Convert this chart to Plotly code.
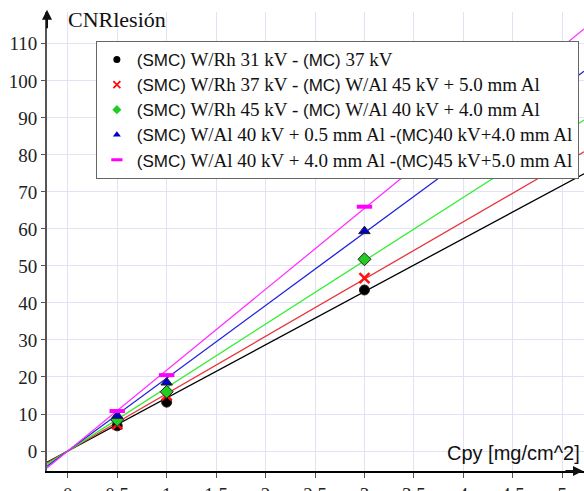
import numpy as np
import plotly.graph_objects as go

SERIF = "Times New Roman, serif"
SANS = "Liberation Sans, Arial, sans-serif"

cpy = [0.5, 1.0, 3.0]


def sans(t):
    return '<span style="font-family:Arial, sans-serif;font-size:17px">' + t + '</span>'


def serif(t):
    return '<span style="font-family:Times New Roman, serif;font-size:19px">' + t + '</span>'


names = [
    sans('(SMC)') + serif(' W/Rh 31 kV - ') + sans('(MC)') + serif(' 37 kV'),
    sans('(SMC)') + serif(' W/Rh 37 kV - ') + sans('(MC)') + serif(' W/Al 45 kV + 5.0 mm Al'),
    sans('(SMC)') + serif(' W/Rh 45 kV - ') + sans('(MC)') + serif(' W/Al 40 kV + 4.0 mm Al'),
    sans('(SMC)') + serif(' W/Al 40 kV + 0.5 mm Al -') + sans('(MC)') + serif('40 kV+4.0 mm Al'),
    sans('(SMC)') + serif(' W/Al 40 kV + 4.0 mm Al -') + sans('(MC)') + serif('45 kV+5.0 mm Al'),
]
cnr_s1 = [6.8, 13.2, 43.5]
cnr_s2 = [7.2, 15.0, 46.7]
cnr_s3 = [8.4, 16.0, 51.8]
cnr_s4 = [9.5, 18.5, 59.4]
cnr_s5 = [10.8, 20.5, 66.0]
series = [cnr_s1, cnr_s2, cnr_s3, cnr_s4, cnr_s5]

x_ticks = [0, 0.5, 1, 1.5, 2, 2.5, 3, 3.5, 4, 4.5, 5]
x_tick_text = ["0", "0.5", "1", "1.5", "2", "2.5", "3", "3.5", "4", "4.5", "5"]
y_ticks = [0, 10, 20, 30, 40, 50, 60, 70, 80, 90, 100, 110]

line_colors = ["#000000", "#e8343a", "#33ee33", "#2020dd", "#ff33ff"]
marker_colors = ["#000000", "#ff1010", "#22cc22", "#0000cc", "#ff00ff"]
symbols = ["circle", "x-thin", "diamond", "triangle-up", "line-ew"]

XMIN, XMAX = -0.21, 5.22
YMIN, YMAX = -5.4, 118.6

fig = go.Figure()
xs = np.array(cpy)
xl = np.array([XMIN, XMAX])
for vals, lc in zip(series, line_colors):
    ys = np.array(vals)
    slope = float((xs * ys).sum() / (xs * xs).sum())
    fig.add_trace(go.Scatter(x=xl, y=slope * xl, mode="lines",
                             line=dict(color=lc, width=1.3),
                             showlegend=False, hoverinfo="skip"))


def make_marker(sym, col, size):
    if sym == "x-thin":
        return dict(symbol=sym, size=size, color=col, line=dict(color=col, width=2.5 if size > 8 else 1.8))
    if sym == "line-ew":
        return dict(symbol=sym, size=size + 1, color=col, line=dict(color=col, width=4 if size > 8 else 3))
    return dict(symbol=sym, size=size, color=col,
                line=dict(color="#222222", width=1 if size > 8 else 0))


for vals, col, sym in zip(series, marker_colors, symbols):
    fig.add_trace(go.Scatter(x=cpy, y=vals, mode="markers", showlegend=False,
                             marker=make_marker(sym, col, 10)))

for col, sym, nm in zip(marker_colors, symbols, names):
    fig.add_trace(go.Scatter(x=[None], y=[None], mode="markers", name=nm,
                             marker=make_marker(sym, col, 7)))

fig.update_layout(
    width=584, height=491,
    margin=dict(l=47, r=0, t=12, b=20),
    paper_bgcolor="white", plot_bgcolor="white",
    font=dict(family=SERIF),
    showlegend=True,
    legend=dict(x=0.091, y=0.937, xanchor="left", yanchor="top",
                bgcolor="white", bordercolor="#666666", borderwidth=1,
                font=dict(family=SERIF, size=17, color="#111111"),
                itemwidth=30, tracegroupgap=0, traceorder="normal"),
    xaxis=dict(range=[XMIN, XMAX], tickvals=x_ticks, ticktext=x_tick_text,
               automargin=False,
               showgrid=True, gridcolor="#e2e2f4", gridwidth=1, zeroline=False,
               showline=True, linecolor="#000000", linewidth=2,
               ticks="outside", ticklen=5, tickcolor="#555555",
               tickfont=dict(family=SERIF, size=19, color="#222222")),
    yaxis=dict(range=[YMIN, YMAX], tickvals=y_ticks,
               automargin=False,
               showgrid=True, gridcolor="#e2e2f4", gridwidth=1, zeroline=False,
               showline=True, linecolor="#555555", linewidth=2,
               ticks="outside", ticklen=4, tickcolor="#555555",
               tickfont=dict(family=SERIF, size=19, color="#222222")),
    annotations=[
        dict(xref="paper", yref="paper", x=0, y=1.005, ax=0, ay=20,
             showarrow=True, arrowhead=2, arrowsize=1, arrowwidth=2,
             arrowcolor="#111111", text=""),
        dict(xref="paper", yref="paper", x=1.0, y=0, ax=-20, ay=0,
             showarrow=True, arrowhead=2, arrowsize=1, arrowwidth=2,
             arrowcolor="#111111", text=""),
        dict(xref="paper", yref="paper", x=0.035, y=1.015, xanchor="left", yanchor="top",
             showarrow=False, text="CNRlesión",
             font=dict(family=SERIF, size=22, color="#111111")),
        dict(xref="paper", yref="paper", x=0.997, y=0.01, xanchor="right", yanchor="bottom",
             showarrow=False, text="Cpy [mg/cm^2]",
             font=dict(family=SANS, size=20, color="#111111")),
    ],
)

fig.write_html("out.html", config={"displayModeBar": False},
               post_script="document.body.style.margin='0';")
